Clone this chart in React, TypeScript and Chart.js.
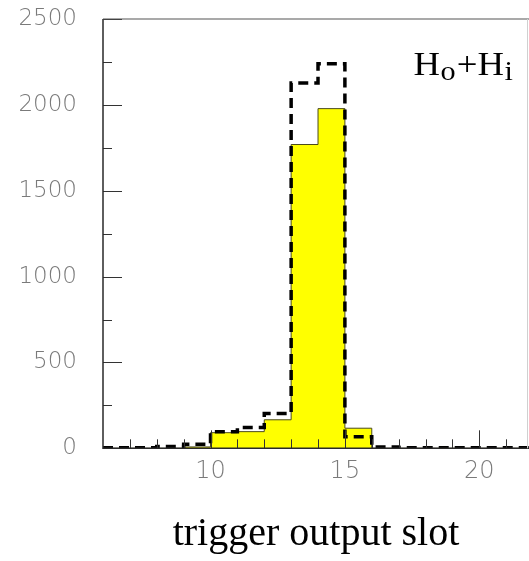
import React, { useEffect, useRef } from 'react';
import { Chart, registerables } from 'chart.js';

Chart.register(...registerables);

// ---- data ----
const BIN_EDGES = [6, 7, 8, 9, 10, 11, 12, 13, 14, 15, 16, 17, 18, 19, 20, 21, 22];
const SOLID_COUNTS = [0, 0, 0, 8, 91, 97, 166, 1769, 1978, 117, 0, 0, 0, 0, 0, 0];
const DASHED_COUNTS = [3, 3, 10, 24, 97, 121, 203, 2127, 2240, 67, 8, 3, 3, 3, 3, 3];
const X_LABEL_TICKS = [10, 15, 20];
const X_MAJOR_TICKS = [10, 15, 20];
const X_MINOR_TICKS = [7, 8, 9, 11, 12, 13, 14, 16, 17, 18, 19, 21];
const Y_MAJOR_TICKS = [0, 500, 1000, 1500, 2000, 2500];
const Y_MINOR_TICKS = [250, 750, 1250, 1750, 2250];
const X_MIN = 6;
const X_MAX = 21.85;
const Y_MIN = 0;
const Y_MAX = 2500;
const X_TITLE = 'trigger output slot';
const ANNOT_PARTS = [
  { text: 'H', sub: false },
  { text: 'o', sub: true },
  { text: '+H', sub: false },
  { text: 'i', sub: true },
];
const ANNOT_X = 17.55;
const ANNOT_Y = 2175;

function toSteps(values: number[]) {
  return BIN_EDGES.map((e, i) => ({ x: e, y: values[Math.min(i, values.length - 1)] }));
}

const framePlugin = {
  id: 'frame',
  afterDatasetsDraw(chart: any) {
    const { ctx, chartArea } = chart;
    const xs = chart.scales.x;
    const ys = chart.scales.y;
    const left = chartArea.left;
    const bottom = chartArea.bottom;
    const top = chartArea.top;
    ctx.save();
    ctx.strokeStyle = '#333';
    ctx.lineWidth = 1;
    const drawV = (v: number, len: number) => {
      const px = Math.round(xs.getPixelForValue(v)) + 0.5;
      ctx.beginPath();
      ctx.moveTo(px, bottom);
      ctx.lineTo(px, bottom - len);
      ctx.stroke();
    };
    const drawH = (v: number, len: number) => {
      const py = Math.round(ys.getPixelForValue(v)) + 0.5;
      ctx.beginPath();
      ctx.moveTo(left, py);
      ctx.lineTo(left + len, py);
      ctx.stroke();
    };
    X_MAJOR_TICKS.forEach((v) => drawV(v, 18));
    X_MINOR_TICKS.forEach((v) => drawV(v, 9));
    Y_MAJOR_TICKS.forEach((v) => drawH(v, 19));
    Y_MINOR_TICKS.forEach((v) => drawH(v, 9));
    ctx.strokeStyle = '#2a2a2a';
    ctx.lineWidth = 1.5;
    ctx.beginPath();
    ctx.moveTo(left, top);
    ctx.lineTo(left, bottom);
    ctx.lineTo(chartArea.right, bottom);
    ctx.stroke();
    ctx.strokeStyle = '#555';
    ctx.lineWidth = 1.2;
    ctx.beginPath();
    ctx.moveTo(left, top);
    ctx.lineTo(chartArea.right, top);
    ctx.stroke();
    ctx.strokeStyle = '#d0d0d0';
    ctx.lineWidth = 1;
    ctx.beginPath();
    ctx.moveTo(527.5, top);
    ctx.lineTo(527.5, bottom);
    ctx.stroke();
    const ax = xs.getPixelForValue(ANNOT_X);
    const ay = ys.getPixelForValue(ANNOT_Y);
    ctx.translate(ax, ay);
    ctx.scale(1.08, 1);
    ctx.fillStyle = '#000';
    ctx.textBaseline = 'alphabetic';
    ctx.textAlign = 'left';
    let cx = 0;
    ANNOT_PARTS.forEach((p) => {
      ctx.font = p.sub ? '28px "Liberation Serif"' : '34px "Liberation Serif"';
      ctx.fillText(p.text, cx, p.sub ? 5 : 0);
      cx += ctx.measureText(p.text).width + (p.sub ? 1 : 0.5);
    });
    ctx.restore();
  },
};

export default function App() {
  const ref = useRef<HTMLCanvasElement | null>(null);
  useEffect(() => {
    if (!ref.current) return;
    const chart = new Chart(ref.current, {
      type: 'line',
      data: {
        datasets: [
          {
            label: 'dashed',
            data: toSteps(DASHED_COUNTS),
            stepped: true,
            borderColor: '#000',
            borderWidth: 3.5,
            borderDash: [10, 6],
            borderCapStyle: 'butt',
            fill: false,
            pointRadius: 0,
            order: 0,
          },
          {
            label: 'solid',
            data: toSteps(SOLID_COUNTS),
            stepped: true,
            borderColor: '#4a4a1a',
            borderWidth: 1,
            backgroundColor: '#ffff00',
            fill: 'origin',
            pointRadius: 0,
            order: 1,
          },
        ],
      } as any,
      options: {
        animation: false,
        responsive: false,
        devicePixelRatio: 1,
        layout: { padding: { top: 19, right: 0, left: 0, bottom: 0 } },
        plugins: { legend: { display: false }, tooltip: { enabled: false } },
        scales: {
          x: {
            type: 'linear',
            min: X_MIN,
            max: X_MAX,
            grid: { display: false, drawTicks: false },
            border: { display: false },
            afterBuildTicks: (s: any) => {
              s.ticks = X_LABEL_TICKS.map((v) => ({ value: v }));
            },
            afterFit: (s: any) => {
              s.height = 112.7;
              s.paddingLeft = 0;
              s.paddingRight = 0;
            },
            ticks: {
              padding: 11,
              color: '#7a7a7a',
              font: { family: '"DejaVu Sans"', size: 24, weight: 300, lineHeight: 1 },
              maxRotation: 0,
              autoSkip: false,
              callback: (v: any) => String(v),
            },
            title: {
              display: true,
              text: X_TITLE,
              color: '#000',
              font: { family: '"Liberation Serif"', size: 40, lineHeight: 1 },
              padding: { top: 0, bottom: 7 },
            },
          },
          y: {
            type: 'linear',
            min: Y_MIN,
            max: Y_MAX,
            grid: { display: false, drawTicks: false },
            border: { display: false },
            afterBuildTicks: (s: any) => {
              s.ticks = Y_MAJOR_TICKS.map((v) => ({ value: v }));
            },
            afterFit: (s: any) => {
              s.width = 103;
              s.paddingTop = 0;
              s.paddingBottom = 0;
            },
            ticks: {
              padding: 26,
              color: '#7a7a7a',
              font: { family: '"DejaVu Sans"', size: 23, weight: 300, lineHeight: 1 },
              callback: (v: any) => String(v),
            },
          },
        },
      } as any,
      plugins: [framePlugin],
    });
    return () => chart.destroy();
  }, []);
  return (
    <div style={{ position: 'absolute', left: 0, top: 0, width: 529, height: 561, background: '#fff' }}>
      <canvas ref={ref} width={529} height={561} style={{ width: 529, height: 561 }} />
    </div>
  );
}
